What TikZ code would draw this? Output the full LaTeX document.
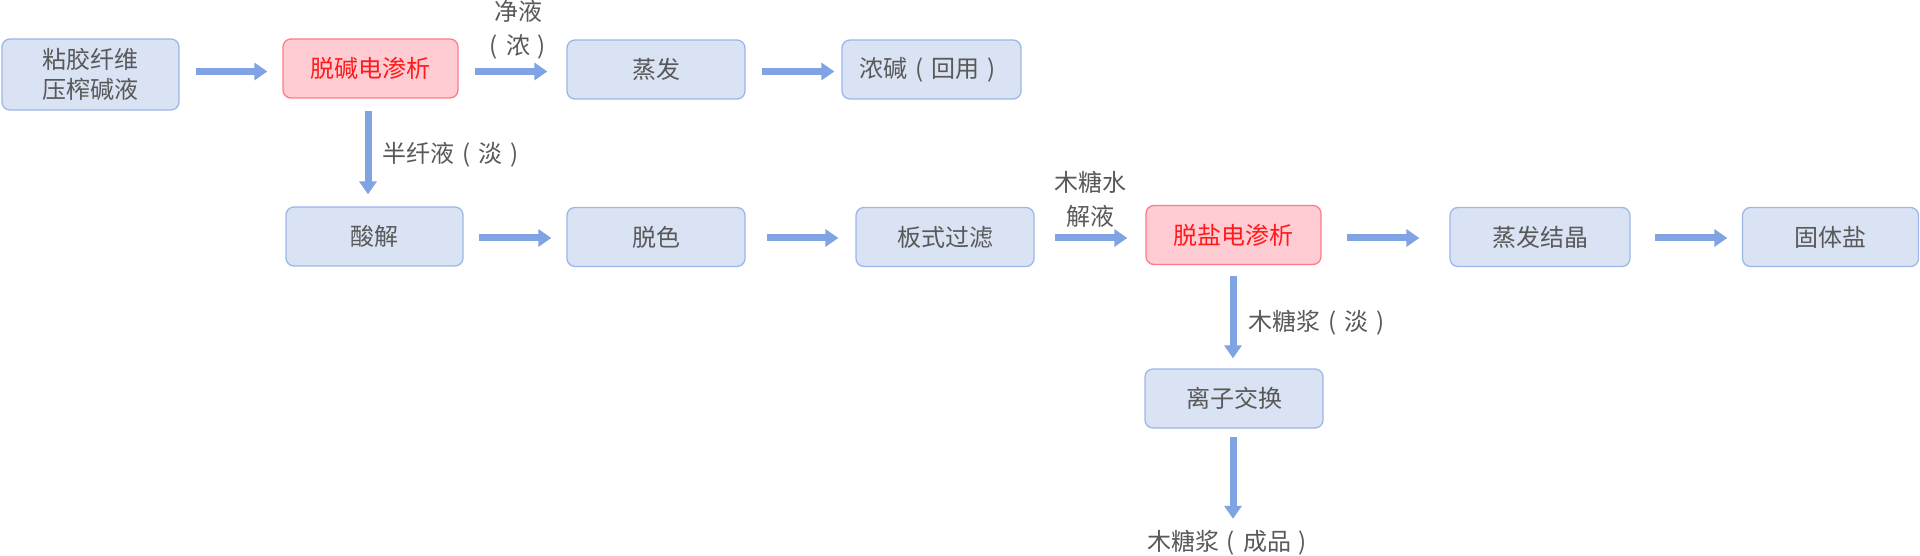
\documentclass[tikz,border=0pt]{standalone}
\usepackage{fontspec}
\setmainfont{Noto Sans CJK SC}
\usetikzlibrary{arrows.meta}
\definecolor{txt}{HTML}{595959}
\definecolor{bfill}{HTML}{DAE3F3}
\definecolor{bdraw}{HTML}{9DB7E8}
\definecolor{rfill}{HTML}{FFCCD3}
\definecolor{rdraw}{HTML}{FF7B86}
\definecolor{rtxt}{HTML}{FF1A1A}
\definecolor{arr}{HTML}{7FA3E3}
\newcommand\lpr{\makebox[1em][c]{(}}
\newcommand\rpr{\makebox[1em][c]{)}}
\begin{document}
\begin{tikzpicture}[x=1pt,y=-1pt,
  box/.style={draw=bdraw, fill=bfill, line width=1.3pt, rounded corners=8pt,
    minimum width=177pt, minimum height=59pt, text=txt,
    font=\fontsize{24}{30}\selectfont, align=center, inner sep=0pt},
  rbox/.style={box, draw=rdraw, fill=rfill, text=rtxt},
  lbl/.style={text=txt, font=\fontsize{24}{34}\selectfont, align=center, inner sep=0pt},
  flow/.style={draw=arr, line width=7pt, -{Triangle[length=13pt,width=17pt]}}]
\fill[white] (0,0) rectangle (1920,556);
\useasboundingbox (0,0) rectangle (1920,556);
% boxes
\node[box, minimum height=71pt] (b1) at (90.5,74.5) {粘胶纤维\\压榨碱液};
\node[rbox, minimum width=175pt] (b2) at (370.5,68.5) {脱碱电渗析};
\node[box, minimum width=178pt] (b3) at (656,69.5) {蒸发};
\node[box, minimum width=179pt] (b4) at (931.5,69.5) {浓碱\lpr 回用\rpr};
\node[box] (c1) at (374.5,236.5) {酸解};
\node[box, minimum width=178pt] (c2) at (656,237) {脱色};
\node[box, minimum width=178pt] (c3) at (945,237) {板式过滤};
\node[rbox, minimum width=175pt] (c4) at (1233.5,235) {脱盐电渗析};
\node[box, minimum width=180pt] (c5) at (1540,237) {蒸发结晶};
\node[box, minimum width=176pt] (c6) at (1830.5,237) {固体盐};
\node[box, minimum width=178pt] (d1) at (1234,398.5) {离子交换};
\node[lbl] (e1) at (1231,543) {木糖浆\lpr 成品\rpr};
% labels
\node[lbl] (l1) at (518,30) {净液\\\lpr 浓\rpr};
\node[lbl] (l2) at (1090,199.5) {木糖水\\解液};
\node[lbl, anchor=west] (l3) at (382,155) {半纤液\lpr 淡\rpr};
\node[lbl, anchor=west] (l4) at (1248,323) {木糖浆\lpr 淡\rpr};
% arrows
\draw[flow] ([xshift=16pt,yshift=3pt]b1.east) -- ([xshift=-15pt,yshift=-3pt]b2.west);
\draw[flow] ([xshift=16pt,yshift=-3pt]b2.east) -- ([xshift=-19pt,yshift=-2pt]b3.west);
\draw[flow] ([xshift=16pt,yshift=-2pt]b3.east) -- ([xshift=-7pt,yshift=-2pt]b4.west);
\draw[flow] ([xshift=-2.5pt,yshift=-12pt]b2.south) -- ([xshift=-6.5pt,yshift=12pt]c1.north);
\draw[flow] ([xshift=15pt,yshift=-1.5pt]c1.east) -- ([xshift=-15pt,yshift=-1pt]c2.west);
\draw[flow] ([xshift=21pt,yshift=-1pt]c2.east) -- ([xshift=-17pt,yshift=-1pt]c3.west);
\draw[flow] ([xshift=20pt,yshift=-1pt]c3.east) -- ([xshift=-18pt,yshift=-3pt]c4.west);
\draw[flow] ([xshift=25pt,yshift=-3pt]c4.east) -- ([xshift=-30pt,yshift=-1pt]c5.west);
\draw[flow] ([xshift=24pt,yshift=-1pt]c5.east) -- ([xshift=-14.5pt,yshift=-1pt]c6.west);
\draw[flow] ([xshift=-0.5pt,yshift=-11pt]c4.south) -- ([xshift=-1pt,yshift=10pt]d1.north);
\draw[flow] ([xshift=-1pt,yshift=-8pt]d1.south) -- ([xshift=2pt,yshift=11.5pt]e1.north);
\end{tikzpicture}
\end{document}
